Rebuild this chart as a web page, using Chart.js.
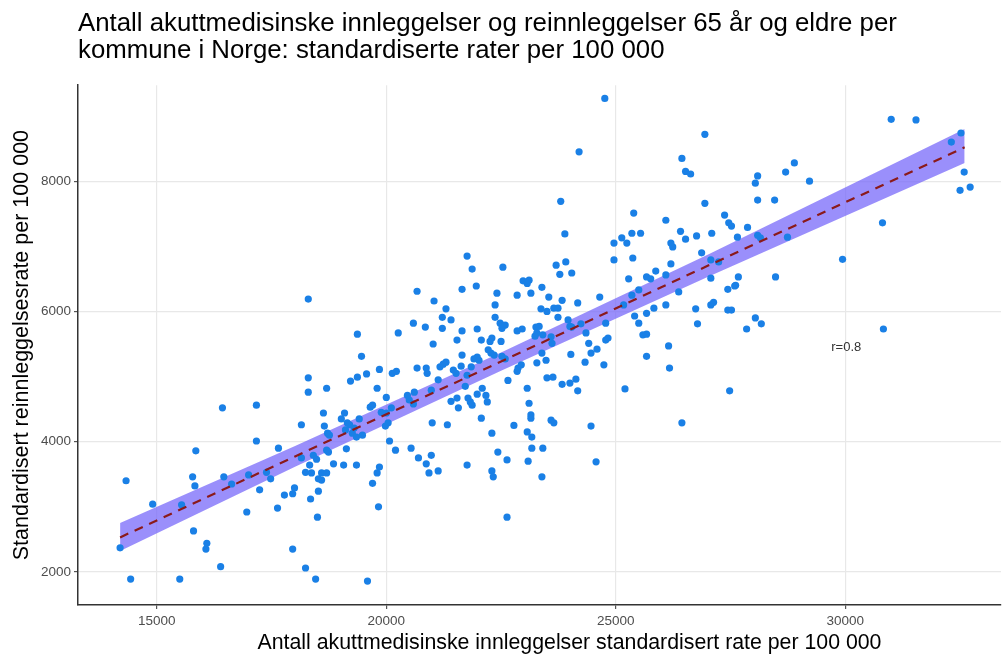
<!DOCTYPE html>
<html>
<head>
<meta charset="utf-8">
<script src="https://cdn.jsdelivr.net/npm/chart.js@4.4.1/dist/chart.umd.min.js"></script>
<style>
    body { margin: 0; background: #fff; }
    .wrap { position: relative; width: 1005px; height: 662px; }
</style>
</head>
<body>
<div class="wrap"><canvas id="chart"></canvas></div>
<script>
const titleLines = [
    'Antall akuttmedisinske innleggelser og reinnleggelser 65 år og eldre per',
    'kommune i Norge: standardiserte rater per 100 000'
];
const xTitle = 'Antall akuttmedisinske innleggelser standardisert rate per 100 000';
const yTitle = 'Standardisert reinnleggelsesrate per 100 000';

const xTicks = [15000, 20000, 25000, 30000];
const yTicks = [2000, 4000, 6000, 8000];

// one value per kommune
const admissions = [
    14200, 14330, 14430, 14910, 15500, 15540, 15780, 15830, 15800, 15850,
    16070, 16090, 16390, 16430, 16460, 16630, 16960, 17000, 17170, 17170, 17240,
    17390, 17480, 17630, 17650, 17780, 17960, 17960, 18000,
    18150, 18150, 18240, 18240, 18300, 18300, 18300, 18330, 18350, 18370, 18410, 18480, 18460, 18500, 18520, 18520, 18590, 18590, 18630, 18650, 18700, 18700, 18700, 18720, 18740, 18760,
    18850, 19020, 19070, 19090, 19110, 19130, 19150, 19200, 19220, 19260, 19300, 19350, 19370, 19370, 19350,
    19410, 19460, 19480, 19570, 19590, 19650, 19700, 19700, 19800, 19800, 19830, 19850, 19850, 19890, 20000, 20000, 20040, 19980, 20070, 20110, 20130, 20200, 20220, 20260,
    20460, 20500, 20590, 20540, 20590, 20670, 20670, 20700, 20850, 20870, 20890, 20870, 20930, 20980, 21000, 21020, 21040, 21130, 21130, 21170, 21220, 21220, 20610, 20980,
    21240, 21300, 21300, 21330, 21410, 21410, 21460, 21520, 21540, 21540, 21570, 21630, 21650, 21650, 21650, 21720, 21760, 21760, 21760, 21780, 21830, 21850, 21870, 21870, 21910, 21960, 21980, 21980, 21980, 22020,
    22070, 22070, 22090, 22170, 22200, 22220, 22260, 22280, 22300, 22300, 22300, 22330, 22350, 22370, 22370, 22410, 22430, 22480, 22500, 22520, 22540, 22590, 22630, 22630, 22650, 22780, 22850, 22850, 22870, 22590, 22520,
    22940, 22850, 22960, 22980, 23070, 23110, 23150, 23070, 23110, 23150, 23150, 23170, 23170, 23090, 23260, 23330, 23280, 23410, 23240, 23390, 23390, 23480, 23280, 23390, 23410, 23500, 23370, 23500, 23540, 23590, 23610, 23590, 23650, 23630, 23650, 23700, 23740, 23740, 23070,
    23780, 23800, 23830, 23830, 23890, 23910, 23960, 24000, 24000, 24020, 24040, 24040, 24130, 24170, 24170, 24200, 24240, 24330, 24350, 24410, 24460, 24460, 24570, 24590,
    24650, 24740, 24760, 24780, 24780, 24830, 24960, 24960, 25130, 25170, 25200, 25240, 25280, 25350, 25350, 25370, 25390, 25410, 25500, 25500,
    25540, 25590, 25670, 25670, 25670, 25760, 25670, 25830, 25870, 26090, 26090, 26090, 26150, 26170, 26200, 26240, 26200, 26370,
    26410, 26440, 26440, 26520, 26520, 26630, 26740, 26760, 26780, 26870, 26940, 26940, 27070, 27070, 27070, 27090, 27130, 27240,
    27370, 27440, 27440, 27460, 27480, 27520, 27520, 27610, 27650, 27670, 27590, 27850, 27870, 28040, 28040, 28090, 28090, 28090, 28150, 28170, 28460, 28480,
    28700, 28740, 28890, 29220, 29940, 30810, 30830, 31000, 31540, 32310, 32520, 32590, 32500, 32720
];
const readmissions = [
    2370, 3400, 1890, 3040, 1890, 3030, 3460, 3320, 2630, 3860,
    2350, 2440, 2080, 4520, 3460, 3350, 2920, 3490, 4560, 4010, 3260,
    3530, 3430, 2980, 3900, 3180, 3200, 2350, 3290,
    4260, 3750, 3530, 2060, 6190, 4980, 4760, 3640, 3120, 3520, 3790, 3730, 1890, 2840, 3240, 3430, 3520, 3410, 4440, 4240, 4820, 3870, 3520, 4130, 3840, 4100,
    3660, 4350, 3640, 4440, 4180, 3890, 4290, 4260, 4930, 4130, 4210, 3640, 5650, 4990, 4070,
    4350, 5310, 4100, 5040, 1860, 4530, 4560, 3360, 4820, 3520, 3000, 5110, 3610, 4450, 4440, 4680, 4290, 4240, 4010, 4520, 5050, 3870, 5080, 5670,
    4710, 4640, 4580, 3900, 5820, 6310, 5130, 3750, 5760, 5130, 5050, 3660, 3520, 3790, 4290, 5500, 6160, 4950, 3550, 5150, 5910, 5740, 4760, 4790,
    5190, 6040, 5220, 4260, 5870, 4620, 5100, 5050, 5560, 4670, 4520, 5160, 6340, 5700, 5330, 4850, 6850, 5020, 3640, 4670, 4610, 5150, 6650, 4560, 5270, 6390, 5730, 5300, 4730, 5250,
    5560, 4360, 4820, 4710, 4610, 5410, 5540, 5360, 5590, 4130, 3550, 3460, 5330, 6100, 5910, 6280, 3840, 5820, 5540, 5740, 6680, 5790, 3720, 2840, 4940, 4250, 6250, 5700, 5130, 5270, 5310,
    5180, 5080, 5730, 6470, 6430, 6480, 6280, 4820, 4590, 4410, 4360, 4070, 3900, 3700, 5760, 5770, 5670, 5640, 5620, 6370, 5360, 5250, 5210, 3460, 3900, 6000, 6040, 4980, 6220, 5610, 5510, 4330, 4290, 4990, 6050, 6710, 6050, 5910, 4150,
    6570, 7690, 6170, 4880, 7190, 6760, 5870, 5770, 4900, 5340, 6590, 5760, 4960, 6130, 4780, 8450, 5810, 5220, 5670, 5510, 5360, 4240, 3690, 5420,
    6220, 5180, 9270, 5820, 5560, 5590, 7050, 6790, 7130, 6100, 4810, 7050, 6500, 7200, 6250, 6820, 7510, 5930, 6330, 5820,
    7200, 5640, 5970, 5650, 6530, 6500, 5310, 6050, 6620, 7400, 6560, 6100, 5470, 5130, 7050, 6990, 6730, 6300,
    7230, 8350, 4290, 8150, 7110, 8110, 6040, 7160, 5810, 6900, 8720, 7660, 6790, 6510, 6100, 7200, 6140, 6760,
    7480, 6340, 6020, 7360, 4780, 7310, 6020, 6400, 7140, 6530, 6390, 5730, 7290, 7970, 5900, 8080, 7710, 7170, 7130, 5810, 7710, 6530,
    8140, 7140, 8280, 8000, 6800, 7360, 5730, 8950, 8940, 8600, 8740, 8140, 7860, 7910
];

// fitted line with its confidence band
const fitX = [14200, 18000, 22500, 27000, 32600];
const fitY = [2530, 3770, 5230, 6700, 8520];
const bandLower = [2320, 3610, 5090, 6530, 8280];
const bandUpper = [2750, 3930, 5370, 6870, 8800];

const corrLabel = 'r=0.8';
const corrPos = [30020, 5450];

const fontFamily = "'Liberation Sans', Arial, sans-serif";
Chart.defaults.font.family = fontFamily;

function pairs(xs, ys) {
    const result = [];
    for (let i = 0; i < xs.length; i++) {
        result.push({ x: xs[i], y: ys[i] });
    }
    return result;
}

// r label and the x axis caption (caption sits a bit right of centre in the original)
const extraText = {
    id: 'extraText',
    afterDatasetsDraw(chart) {
        const ctx = chart.ctx;
        const area = chart.chartArea;
        ctx.save();
        ctx.font = '13px ' + fontFamily;
        ctx.fillStyle = '#333';
        ctx.textAlign = 'center';
        ctx.textBaseline = 'middle';
        ctx.fillText(corrLabel, chart.scales.x.getPixelForValue(corrPos[0]), chart.scales.y.getPixelForValue(corrPos[1]));

        ctx.font = '21.3px ' + fontFamily;
        ctx.fillStyle = '#000';
        ctx.fillText(xTitle, (area.left + area.right) / 2 + 30, chart.height - 19);
        ctx.restore();
    }
};

new Chart(document.getElementById('chart'), {
    type: 'scatter',
    data: {
        datasets: [
            {
                type: 'line',
                data: pairs(fitX, fitY),
                borderColor: '#8B1A1A',
                borderWidth: 2.2,
                borderDash: [9, 7],
                pointRadius: 0,
                fill: false,
                order: 0
            },
            {
                data: pairs(admissions, readmissions),
                backgroundColor: '#1A80E6',
                borderWidth: 0,
                pointRadius: 3.6,
                order: 1
            },
            {
                type: 'line',
                data: pairs(fitX, bandLower),
                borderWidth: 0,
                pointRadius: 0,
                fill: false,
                order: 3
            },
            {
                type: 'line',
                data: pairs(fitX, bandUpper),
                borderWidth: 0,
                pointRadius: 0,
                backgroundColor: 'rgba(115,100,250,0.72)',
                fill: '-1',
                order: 2
            }
        ]
    },
    options: {
        responsive: true,
        maintainAspectRatio: false,
        animation: false,
        layout: { padding: 0 },
        plugins: {
            legend: { display: false },
            tooltip: { enabled: false },
            title: {
                display: true,
                text: titleLines,
                align: 'start',
                fullSize: false,
                color: '#000',
                font: { size: 25.8, weight: 'normal', lineHeight: 1.05 },
                padding: { top: 10, bottom: 21 }
            }
        },
        scales: {
            x: {
                type: 'linear',
                min: 13283,
                max: 33392,
                afterBuildTicks: scale => { scale.ticks = xTicks.map(v => ({ value: v })); },
                afterFit: scale => { scale.height = 57; },
                grid: { color: '#E8E8E8', lineWidth: 1.2, tickLength: 4, tickColor: '#555' },
                border: { color: '#333', width: 1.5 },
                ticks: { color: '#4D4D4D', font: { size: 13.5 }, padding: 4, maxRotation: 0, callback: v => String(v) }
            },
            y: {
                type: 'linear',
                min: 1492,
                max: 9474,
                afterBuildTicks: scale => { scale.ticks = yTicks.map(v => ({ value: v })); },
                afterFit: scale => { scale.width = 78; },
                grid: { color: '#E8E8E8', lineWidth: 1.2, tickLength: 4, tickColor: '#555' },
                border: { color: '#333', width: 1.5 },
                ticks: { color: '#4D4D4D', font: { size: 13.5 }, padding: 3, callback: v => String(v) },
                title: {
                    display: true,
                    text: yTitle,
                    color: '#000',
                    font: { size: 21.5 },
                    padding: { top: 9, bottom: 0 }
                }
            }
        }
    },
    plugins: [extraText]
});
</script>
</body>
</html>
